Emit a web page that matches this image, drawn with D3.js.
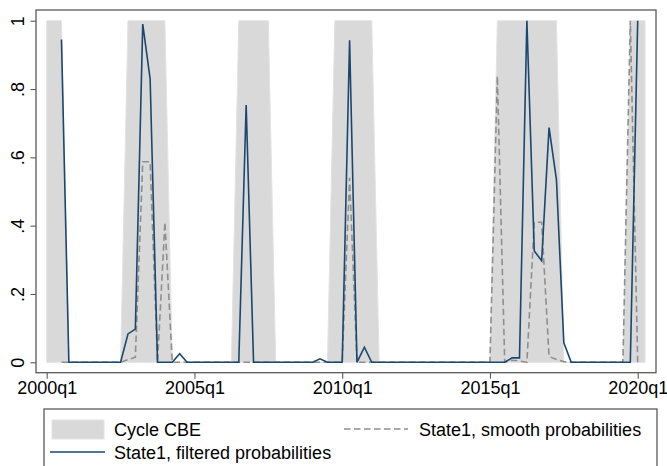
<!DOCTYPE html>
<html>
<head>
<meta charset="utf-8">
<script src="https://cdn.jsdelivr.net/npm/d3@7"></script>
<style>
  html, body { margin: 0; padding: 0; background: #fff; }
  svg { display: block; }
  text { font-family: "Liberation Sans", Arial, Helvetica, sans-serif; fill: #000; }
</style>
</head>
<body>
<svg id="chart" width="667" height="466"></svg>
<script>
// Quarter index: 0 = 2000q1
const tickIndex = [0, 20, 40, 60, 80];
const tickLabels = ["2000q1", "2005q1", "2010q1", "2015q1", "2020q1"];
const yTicks = [0, 0.2, 0.4, 0.6, 0.8, 1];
const yTickLabels = ["0", ".2", ".4", ".6", ".8", "1"];

// Cycle CBE indicator, quarters 0..81
const cycleStart = 0;
const cycleCBE = [
  1, 1, 1,
  0, 0, 0, 0, 0, 0, 0, 0,
  1, 1, 1, 1, 1, 1,
  0, 0, 0, 0, 0, 0, 0, 0, 0,
  1, 1, 1, 1, 1,
  0, 0, 0, 0, 0, 0, 0, 0,
  1, 1, 1, 1, 1, 1,
  0, 0, 0, 0, 0, 0, 0, 0, 0, 0, 0, 0, 0, 0, 0, 0,
  1, 1, 1, 1, 1, 1, 1, 1, 1,
  0, 0, 0, 0, 0, 0, 0, 0, 0,
  1, 1, 1
];

// State1 probabilities, quarters 2..80
const probStart = 2;
const filtered = [
  0.945,
  0, 0, 0, 0, 0, 0, 0, 0,
  0.083, 0.097, 0.99, 0.83,
  0, 0, 0,
  0.025,
  0, 0, 0, 0, 0, 0, 0, 0,
  0.753,
  0, 0, 0, 0, 0, 0, 0, 0, 0,
  0.01,
  0, 0, 0,
  0.943,
  0,
  0.044,
  0, 0, 0, 0, 0, 0, 0, 0, 0, 0, 0, 0, 0, 0, 0, 0, 0, 0, 0,
  0.013, 0.013, 1.0, 0.326, 0.297, 0.687, 0.535, 0.057,
  0, 0, 0, 0, 0, 0, 0, 0, 0,
  1.0
];
const smooth = [
  0, 0, 0, 0, 0, 0, 0, 0, 0,
  0.008, 0.015, 0.587, 0.587, 0, 0.41,
  0, 0, 0, 0, 0, 0, 0, 0, 0, 0, 0, 0, 0, 0, 0, 0, 0, 0, 0, 0, 0, 0, 0, 0,
  0.54,
  0, 0, 0, 0, 0, 0, 0, 0, 0, 0, 0, 0, 0, 0, 0, 0, 0, 0, 0,
  0.838,
  0,
  0.006, 0.004, 0, 0.41, 0.41, 0.017, 0.008, 0.002,
  0, 0, 0, 0, 0, 0, 0, 0,
  1.0,
  0
];

const legendLabels = ["Cycle CBE", "State1, smooth probabilities", "State1, filtered probabilities"];

const C = {
  band: "#d9d9d9",
  bandStroke: "#e3e3e3",
  filtered: "#1a476f",
  smooth: "#8f8f8f",
  frame: "#5a5a5a"
};
const FS = 18;

const svg = d3.select("#chart");

const frame = { left: 36, right: 656, top: 10, bottom: 372.7 };
const x = d3.scaleLinear().domain([0, 80]).range([46.7, 637.7]);
const y = d3.scaleLinear().domain([0, 1]).range([362.3, 20.7]);

const cycleData = cycleCBE.map((v, i) => ({ q: cycleStart + i, v }));
const filtData = filtered.map((v, i) => ({ q: probStart + i, v }));
const smoothData = smooth.map((v, i) => ({ q: probStart + i, v }));

// Bands (area)
const area = d3.area().x(d => x(d.q)).y0(y(0)).y1(d => y(d.v));
svg.append("path").datum(cycleData)
  .attr("d", area)
  .attr("fill", C.band)
  .attr("stroke", C.bandStroke)
  .attr("stroke-width", 1);

const line = d3.line().x(d => x(d.q)).y(d => y(d.v));

svg.append("path").datum(smoothData)
  .attr("d", line)
  .attr("fill", "none")
  .attr("stroke", C.smooth)
  .attr("stroke-width", 1.6)
  .attr("stroke-dasharray", "6.5,3.5");

svg.append("path").datum(filtData)
  .attr("d", line)
  .attr("fill", "none")
  .attr("stroke", C.filtered)
  .attr("stroke-width", 1.6)
  .attr("stroke-linejoin", "miter");

// Frame
svg.append("rect")
  .attr("x", frame.left).attr("y", frame.top)
  .attr("width", frame.right - frame.left)
  .attr("height", frame.bottom - frame.top)
  .attr("fill", "none")
  .attr("stroke", C.frame)
  .attr("stroke-width", 1.3);

// Y axis
const yAxis = d3.axisLeft(y).tickValues(yTicks)
  .tickFormat((d, i) => yTickLabels[i]).tickSize(5.5);
const gy = svg.append("g").attr("transform", `translate(${frame.left},0)`).call(yAxis);
gy.select(".domain").remove();
gy.selectAll(".tick line").attr("stroke", C.frame).attr("stroke-width", 1.1);
gy.selectAll(".tick text")
  .attr("font-size", FS)
  .attr("fill", "#000")
  .attr("x", null).attr("y", null).attr("dy", 0)
  .attr("text-anchor", "middle")
  .attr("transform", "translate(-12.5,0) rotate(-90)");

// X axis
const xAxis = d3.axisBottom(x).tickValues(tickIndex)
  .tickFormat((d, i) => tickLabels[i]).tickSize(6).tickPadding(3);
const gx = svg.append("g").attr("transform", `translate(0,${frame.bottom})`).call(xAxis);
gx.select(".domain").remove();
gx.selectAll(".tick line").attr("stroke", C.frame).attr("stroke-width", 1.1);
gx.selectAll(".tick text").attr("font-size", FS).attr("fill", "#000");

// Legend
const lg = { left: 44, top: 409, right: 657, bottom: 470 };
svg.append("rect")
  .attr("x", lg.left).attr("y", lg.top)
  .attr("width", lg.right - lg.left).attr("height", lg.bottom - lg.top)
  .attr("fill", "#fff").attr("stroke", C.frame).attr("stroke-width", 1.3);

const row1 = 429, row2 = 452;
svg.append("rect").attr("x", 52).attr("y", row1 - 9).attr("width", 52).attr("height", 19)
  .attr("fill", C.band).attr("stroke", C.bandStroke);
svg.append("text").attr("x", 114).attr("y", row1 + 6.5).attr("font-size", FS).text(legendLabels[0]);

svg.append("line").attr("x1", 344).attr("x2", 408).attr("y1", row1).attr("y2", row1)
  .attr("stroke", C.smooth).attr("stroke-width", 1.6).attr("stroke-dasharray", "6.5,3.5");
svg.append("text").attr("x", 419).attr("y", row1 + 6.5).attr("font-size", FS).text(legendLabels[1]);

svg.append("line").attr("x1", 50).attr("x2", 105).attr("y1", row2).attr("y2", row2)
  .attr("stroke", C.filtered).attr("stroke-width", 1.6);
svg.append("text").attr("x", 114).attr("y", row2 + 6.5).attr("font-size", FS).text(legendLabels[2]);
</script>
</body>
</html>
